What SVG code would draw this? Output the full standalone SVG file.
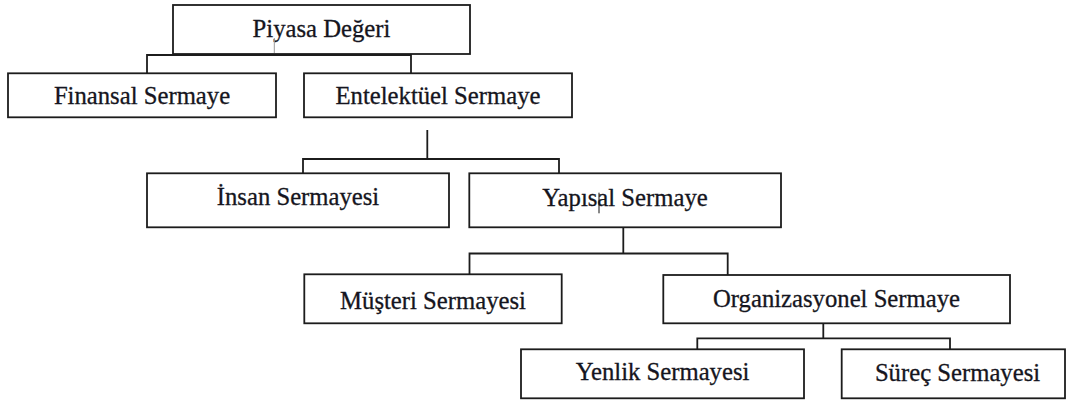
<svg xmlns="http://www.w3.org/2000/svg" width="1072" height="401" viewBox="0 0 1072 401">
<style>
.box{fill:#fff;stroke:#1c1c1c;stroke-width:1.8}
.lbl{font-family:"Liberation Serif","Times New Roman",serif;font-size:24.7px;fill:#151520;stroke:#151520;stroke-width:0.3;text-anchor:middle}
.con{fill:none;stroke:#1c1c1c;stroke-width:1.8}
</style>
<rect width="1072" height="401" fill="#fff"/>
<g id="connectors">
<path class="con" d="M147 73 V55 H411 V73"/>
<path class="con" d="M427.3 130 V159"/>
<path class="con" d="M303 173 V159 H559 V173"/>
<path class="con" d="M623.3 227 V253.5"/>
<path class="con" d="M469.5 274 V253.5 H727.7 V275"/>
<path class="con" d="M823.3 323 V338.3"/>
<path class="con" d="M697.3 349 V338.3 H950 V349"/>
</g>
<g id="piyasa">
<rect class="box" x="173" y="5" width="297" height="49"/>
<text class="lbl" x="321.5" y="36.7">Piyasa Değeri</text>
<line x1="274.3" y1="38" x2="274.3" y2="53" stroke="#9a9a9a" stroke-width="1"/>
</g>
<g id="finansal">
<rect class="box" x="8" y="73.3" width="268" height="44"/>
<text class="lbl" x="142" y="104">Finansal Sermaye</text>
</g>
<g id="entelektuel">
<rect class="box" x="304" y="73.3" width="268" height="44"/>
<text class="lbl" x="438" y="104">Entelektüel Sermaye</text>
</g>
<g id="insan">
<rect class="box" x="147" y="173.3" width="302" height="54"/>
<text class="lbl" x="298" y="205">İnsan Sermayesi</text>
</g>
<g id="yapisal">
<rect class="box" x="469.3" y="173.3" width="311.7" height="54"/>
<text class="lbl" x="625" y="206">Yapısal Sermaye</text>
<line x1="599" y1="192.7" x2="599" y2="213.3" stroke="#111" stroke-width="1"/>
</g>
<g id="musteri">
<rect class="box" x="304.3" y="274.3" width="257.4" height="49"/>
<text class="lbl" x="433" y="308.5">Müşteri Sermayesi</text>
</g>
<g id="organizasyonel">
<rect class="box" x="663.3" y="275" width="346.7" height="48.3"/>
<text class="lbl" x="836.5" y="307">Organizasyonel Sermaye</text>
</g>
<g id="yenlik">
<rect class="box" x="521" y="349.3" width="283" height="49"/>
<text class="lbl" x="662.5" y="380">Yenlik Sermayesi</text>
</g>
<g id="surec">
<rect class="box" x="841.7" y="349.3" width="223.3" height="49"/>
<text class="lbl" x="957.5" y="380.5">Süreç Sermayesi</text>
</g>
</svg>
